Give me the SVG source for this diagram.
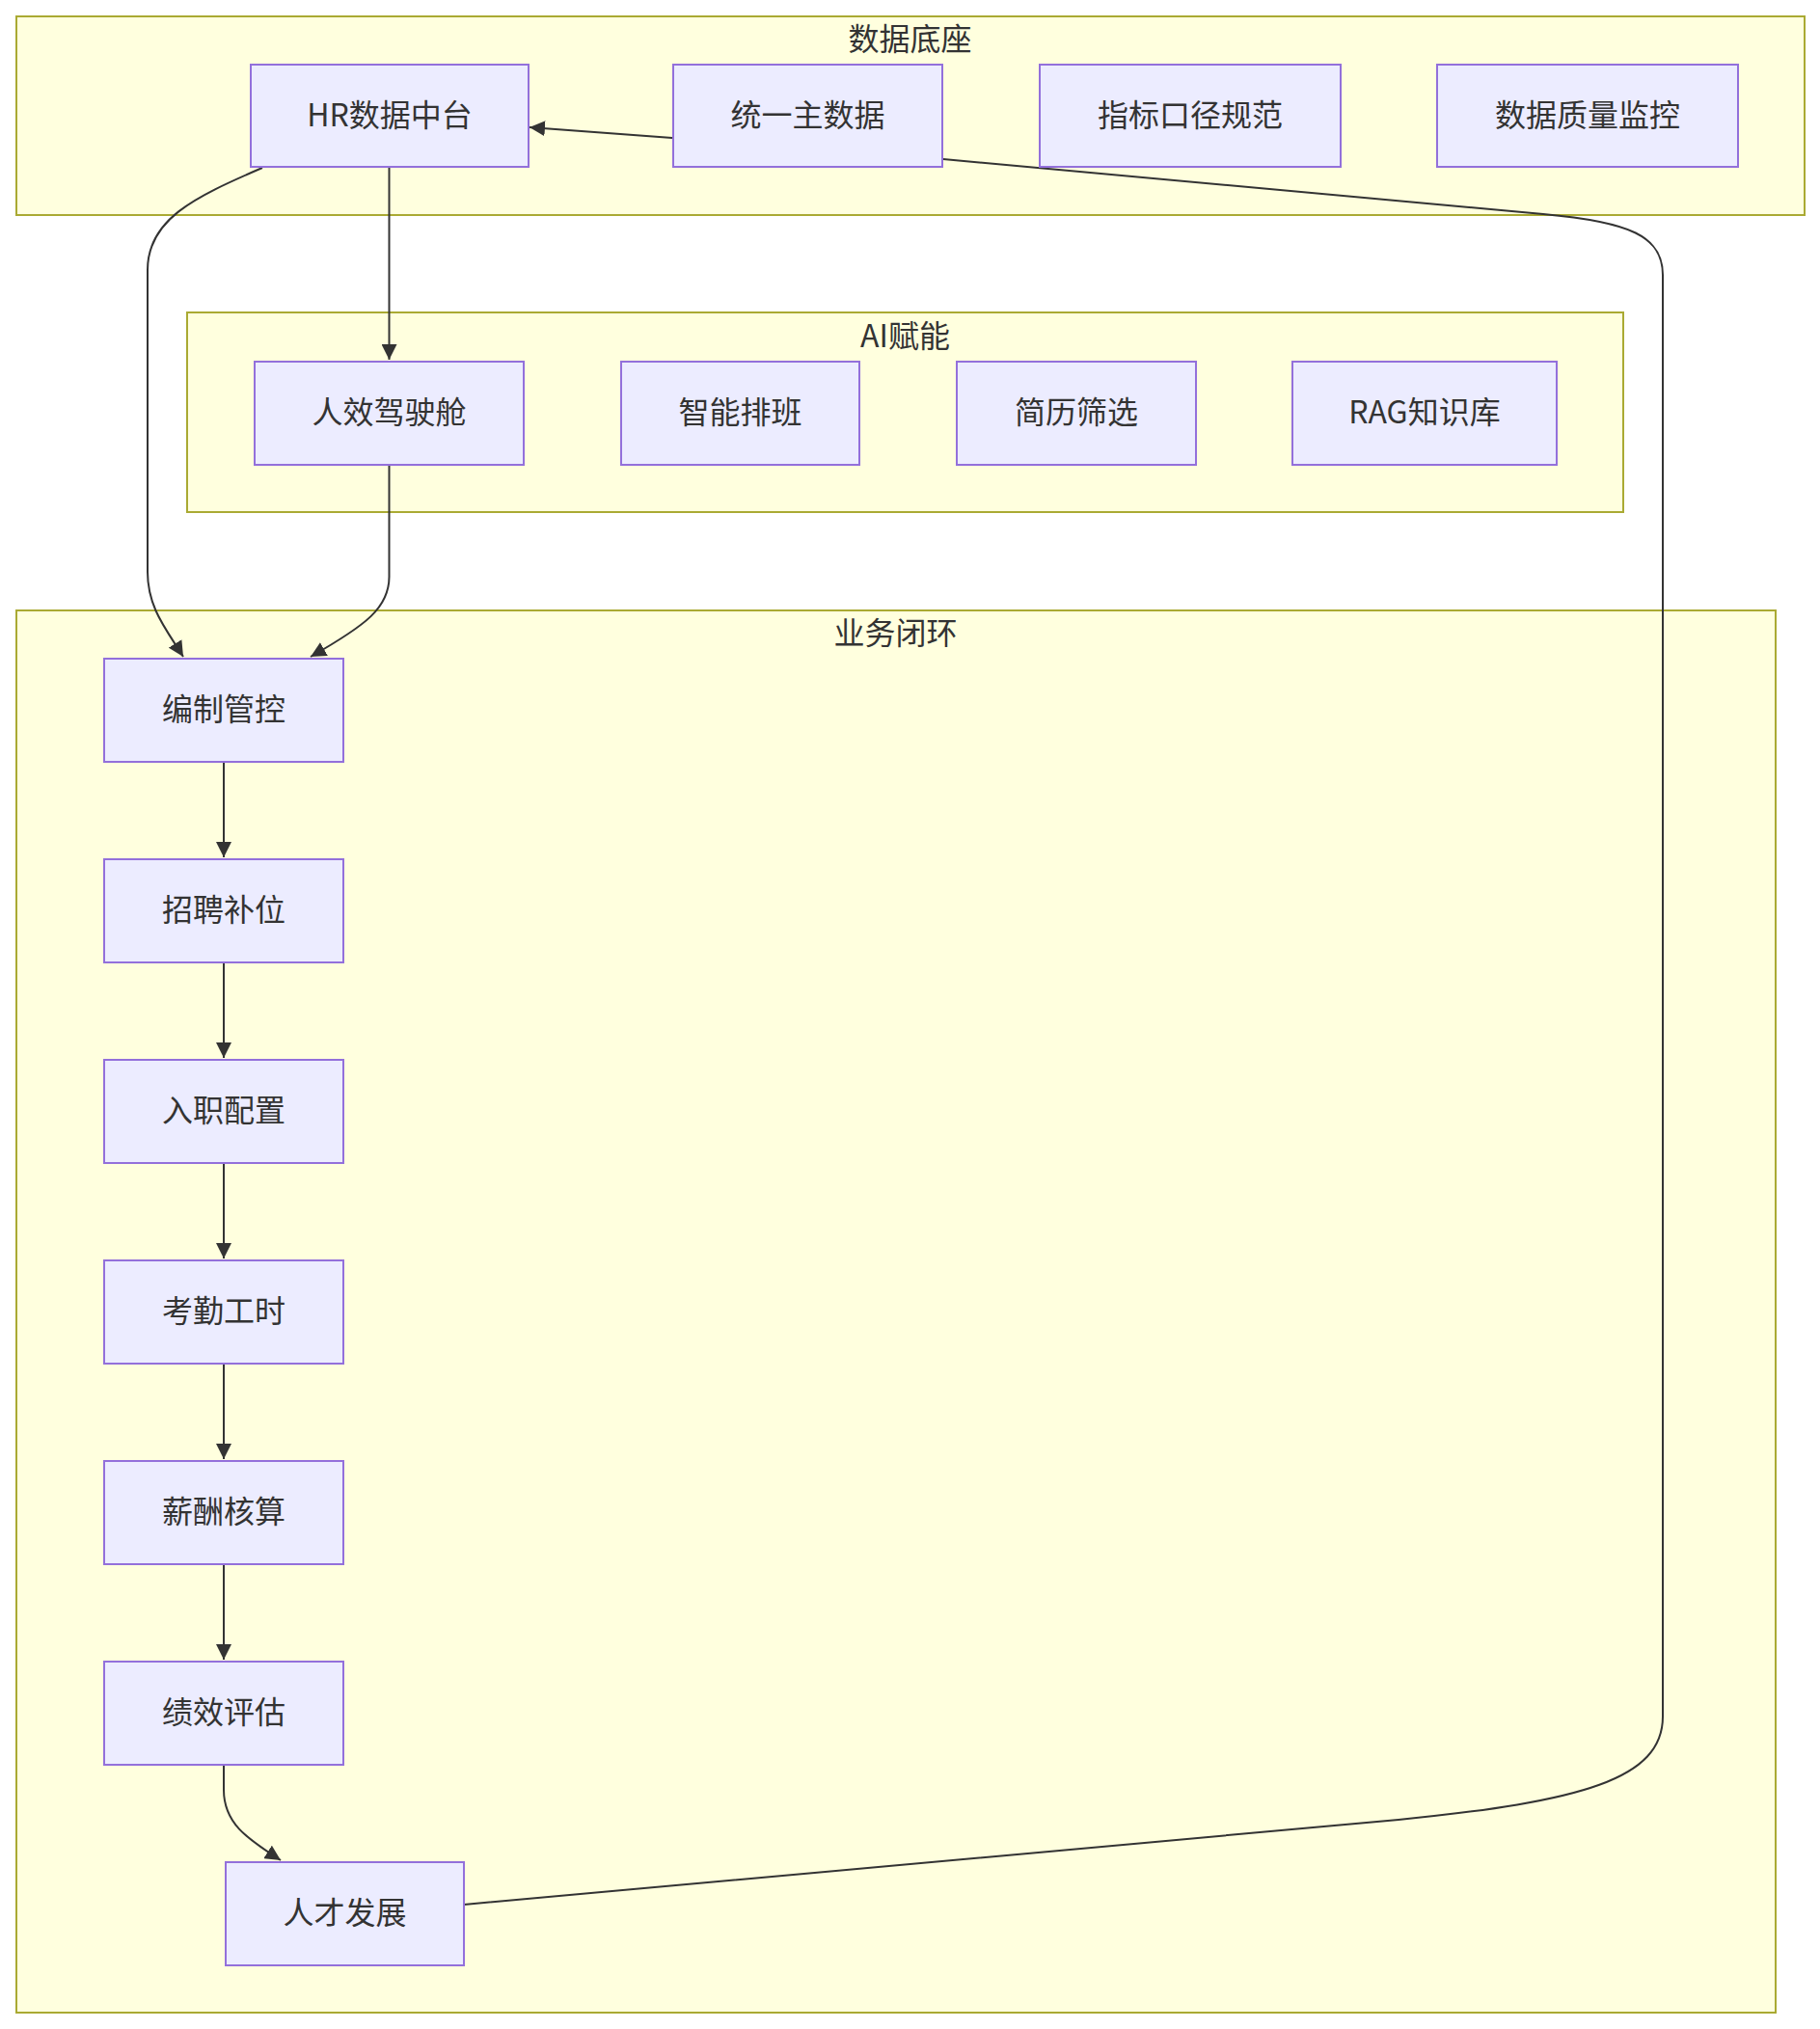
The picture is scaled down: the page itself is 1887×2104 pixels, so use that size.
<svg xmlns="http://www.w3.org/2000/svg" width="1887" height="2104" viewBox="0 0 1887 2104">
  <defs>
    <style>
      .cluster { fill: #ffffde; stroke: #aaaa33; stroke-width: 2; }
      .node rect { fill: #ececff; stroke: #9370db; stroke-width: 2; }
      .label { font-family: "Noto Sans CJK SC", "Noto Sans", sans-serif; font-size: 32px; fill: #333333; text-anchor: middle; dominant-baseline: central; }
      .edge { fill: none; stroke: #333333; stroke-width: 2; }
    </style>
    <marker id="arrow" viewBox="0 0 10 10" refX="10" refY="5" markerUnits="userSpaceOnUse" markerWidth="16" markerHeight="16" orient="auto">
      <path d="M0,0 L10,5 L0,10 z" fill="#333333"/>
    </marker>
  </defs>
  <rect width="1887" height="2104" fill="#ffffff"/>

  <g id="subgraph-data">
    <rect class="cluster" x="17" y="17" width="1854" height="206"/>
    <text class="label" x="943.5" y="38">数据底座</text>
  </g>
  <g id="subgraph-ai">
    <rect class="cluster" x="194" y="324" width="1489" height="207"/>
    <text class="label" x="938.5" y="346">AI赋能</text>
  </g>
  <g id="subgraph-biz">
    <rect class="cluster" x="17" y="633" width="1824" height="1454"/>
    <text class="label" x="928.5" y="654">业务闭环</text>
  </g>

  <g id="connectors">
    <path class="edge" d="M697,143 L549,132" marker-end="url(#arrow)"/>
    <path class="edge" d="M403.5,174 L403.5,373" marker-end="url(#arrow)"/>
    <path class="edge" d="M272,174 C200,205 153,228 153,280 L153,593 C153,630 172,652 190,681" marker-end="url(#arrow)"/>
    <path class="edge" d="M403.5,483 L403.5,598 C403.5,630 380,648 322,681" marker-end="url(#arrow)"/>
    <path class="edge" d="M232,791 L232,889" marker-end="url(#arrow)"/>
    <path class="edge" d="M232,999 L232,1097" marker-end="url(#arrow)"/>
    <path class="edge" d="M232,1207 L232,1305" marker-end="url(#arrow)"/>
    <path class="edge" d="M232,1415 L232,1513" marker-end="url(#arrow)"/>
    <path class="edge" d="M232,1623 L232,1721" marker-end="url(#arrow)"/>
    <path class="edge" d="M232,1831 L232,1856 C232,1890 255,1906 291,1929" marker-end="url(#arrow)"/>
    <path class="edge" d="M481,1975 L1450,1887 C1640,1868 1724,1845 1724,1780 L1724,285 C1724,245 1690,230 1600,222 L978,165"/>
  </g>

  <g id="node-hr" class="node">
    <rect x="260" y="67" width="288" height="106"/>
    <text class="label" x="404" y="117">HR数据中台</text>
  </g>
  <g id="node-master" class="node">
    <rect x="698" y="67" width="279" height="106"/>
    <text class="label" x="837.5" y="117">统一主数据</text>
  </g>
  <g id="node-metric" class="node">
    <rect x="1078" y="67" width="312" height="106"/>
    <text class="label" x="1234" y="117">指标口径规范</text>
  </g>
  <g id="node-quality" class="node">
    <rect x="1490" y="67" width="312" height="106"/>
    <text class="label" x="1646" y="117">数据质量监控</text>
  </g>

  <g id="node-cockpit" class="node">
    <rect x="264" y="375" width="279" height="107"/>
    <text class="label" x="403.5" y="425">人效驾驶舱</text>
  </g>
  <g id="node-schedule" class="node">
    <rect x="644" y="375" width="247" height="107"/>
    <text class="label" x="767.5" y="425">智能排班</text>
  </g>
  <g id="node-resume" class="node">
    <rect x="992" y="375" width="248" height="107"/>
    <text class="label" x="1116" y="425">简历筛选</text>
  </g>
  <g id="node-rag" class="node">
    <rect x="1340" y="375" width="274" height="107"/>
    <text class="label" x="1477" y="425">RAG知识库</text>
  </g>

  <g id="node-headcount" class="node">
    <rect x="108" y="683" width="248" height="107"/>
    <text class="label" x="232" y="733">编制管控</text>
  </g>
  <g id="node-recruit" class="node">
    <rect x="108" y="891" width="248" height="107"/>
    <text class="label" x="232" y="941">招聘补位</text>
  </g>
  <g id="node-onboard" class="node">
    <rect x="108" y="1099" width="248" height="107"/>
    <text class="label" x="232" y="1149">入职配置</text>
  </g>
  <g id="node-attendance" class="node">
    <rect x="108" y="1307" width="248" height="107"/>
    <text class="label" x="232" y="1357">考勤工时</text>
  </g>
  <g id="node-payroll" class="node">
    <rect x="108" y="1515" width="248" height="107"/>
    <text class="label" x="232" y="1565">薪酬核算</text>
  </g>
  <g id="node-perf" class="node">
    <rect x="108" y="1723" width="248" height="107"/>
    <text class="label" x="232" y="1773">绩效评估</text>
  </g>
  <g id="node-talent" class="node">
    <rect x="234" y="1931" width="247" height="107"/>
    <text class="label" x="357.5" y="1981">人才发展</text>
  </g>
</svg>
